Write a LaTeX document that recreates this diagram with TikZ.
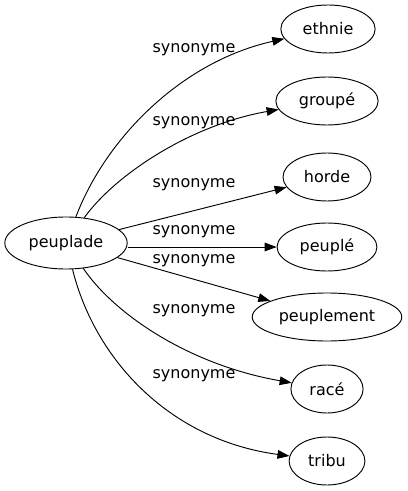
\documentclass[tikz,border=0pt]{standalone}
\usepackage{fontspec}
\setmainfont{DejaVu Sans}
\usetikzlibrary{shapes.geometric,arrows.meta}
\begin{document}
\begin{tikzpicture}[x=0.75pt,y=-0.75pt,->,>={Triangle[length=9pt,width=6.5pt]},line width=0.7pt,
	every node/.style={font=\fontsize{12pt}{14pt}\selectfont},
	word/.style={ellipse,draw,minimum height=36pt,inner xsep=6pt,inner ysep=2pt},
	lbl/.style={inner sep=0}]
	\useasboundingbox (0,0) rectangle (407,491);
	\node[word,minimum height=39pt,inner xsep=4.5pt] (peuplade) at (66,243) {peuplade};
	\node[word] (ethnie) at (328,29) {ethnie};
	\node[word] (groupe) at (327,101) {groupé};
	\node[word] (horde) at (327,177) {horde};
	\node[word] (peuple) at (327,247) {peuplé};
	\node[word,inner xsep=3.5pt] (peuplement) at (327,317) {peuplement};
	\node[word] (race) at (327,389) {racé};
	\node[word] (tribu) at (327,461) {tribu};
	\node[lbl] (l1) at (194,50) {synonyme};
	\node[lbl] (l2) at (194,123) {synonyme};
	\node[lbl] (l3) at (194,185) {synonyme};
	\node[lbl] (l4) at (194,232) {synonyme};
	\node[lbl] (l5) at (194,261) {synonyme};
	\node[lbl] (l6) at (194,311) {synonyme};
	\node[lbl] (l7) at (194,376) {synonyme};
	\draw (peuplade) .. controls (105,140) and (180,62) .. (ethnie);
	\draw (peuplade) .. controls (115,175) and (190,125) .. (groupe);
	\draw (peuplade) -- (horde);
	\draw (peuplade.east |- peuple) -- (peuple);
	\draw (peuplade) -- (peuplement);
	\draw (peuplade) .. controls (115,315) and (190,365) .. (race);
	\draw (peuplade) .. controls (95,360) and (170,440) .. (tribu);
\end{tikzpicture}
\end{document}
